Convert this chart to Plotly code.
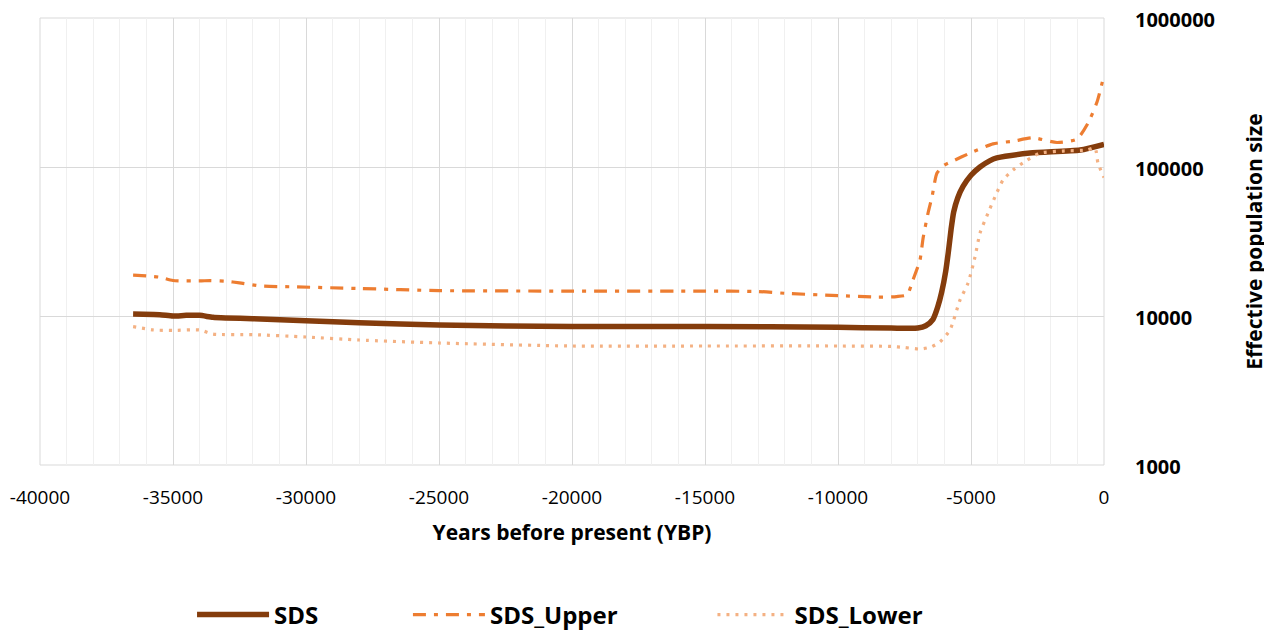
import plotly.graph_objects as go

# ---- data ----
sds_x = [-36500, -35500, -35000, -34500, -34000, -33500, -33000, -32000, -30000, -28000,
         -25000, -20000, -15000, -10000, -8000, -7000, -6700, -6429, -6250, -6100, -5950,
         -5850, -5750, -5650, -5500, -5300, -5000, -4662, -4300, -4030, -2782, -900, 0]
sds_y = [10300, 10200, 10000, 10100, 10100, 9800, 9700, 9600, 9300, 9000,
         8700, 8500, 8500, 8400, 8300, 8300, 8600, 9500, 11500, 14500, 20000,
         27000, 38000, 50000, 62000, 74000, 88000, 100000, 110000, 115000, 124000, 130000, 142000]

upper_x = [-36500, -36000, -35500, -35000, -34000, -33600, -33000, -32500, -31700, -30500,
           -28000, -25000, -20000, -15000, -13000, -12000, -10000, -8500, -7800, -7400,
           -7180, -6917, -6800, -6617, -6466, -6278, -6000, -5714, -5038, -4173, -3421,
           -2669, -1767, -1015, -602, -263, 0]
upper_y = [18800, 18600, 18200, 17300, 17200, 17300, 17100, 16700, 15900, 15700,
           15300, 14800, 14700, 14700, 14600, 14200, 13700, 13400, 13500, 13900,
           17500, 23800, 33400, 48900, 63000, 91000, 103000, 109000, 124000, 143000, 149000,
           157000, 146000, 154000, 197000, 273000, 414000]

lower_x = [-36500, -36000, -35750, -35000, -34000, -33500, -32000, -30000, -28000, -25000,
           -20000, -15000, -10000, -8000, -7500, -6917, -6500, -6165, -5790, -5414, -5113,
           -4850, -4662, -4361, -4098, -3797, -3421, -2895, -2406, -1541, -640, -338, -226, 0]
lower_y = [8480, 8200, 8060, 8000, 8060, 7570, 7500, 7230, 6900, 6590,
           6290, 6290, 6290, 6250, 6150, 6000, 6200, 6700, 8060, 12800, 16600,
           24900, 36000, 49000, 63000, 81700, 95500, 111000, 124000, 128000, 130000, 134000, 106000, 85000]

x_ticks = [-40000, -35000, -30000, -25000, -20000, -15000, -10000, -5000, 0]
y_ticks = [1000, 10000, 100000, 1000000]
y_labels = ["1000", "10000", "100000", "1000000"]

FONT = "Open Sans"
LEG_FONT = dict(family=FONT, size=24, color="black", weight="bold")

fig = go.Figure()
fig.add_trace(go.Scatter(x=sds_x, y=sds_y, mode="lines", name="SDS", legend="legend",
                         line=dict(color="#843C0C", width=5.5, shape="spline", smoothing=0.6)))
fig.add_trace(go.Scatter(x=upper_x, y=upper_y, mode="lines", name="SDS_Upper", legend="legend2",
                         line=dict(color="#ED7D31", width=3.2, dash="13px,8px,4px,8px",
                                   shape="spline", smoothing=0.6)))
fig.add_trace(go.Scatter(x=lower_x, y=lower_y, mode="lines", name="SDS_Lower", legend="legend3",
                         line=dict(color="#F4B183", width=3.2, dash="3px,6px",
                                   shape="spline", smoothing=0.6)))

def leg(xpos):
    return dict(orientation="h", x=xpos, xanchor="left", y=-0.3356, yanchor="middle",
                font=LEG_FONT, itemwidth=72, bgcolor="rgba(0,0,0,0)")

fig.update_layout(
    width=1264, height=640,
    margin=dict(l=32, r=168, t=10, b=183),
    paper_bgcolor="white", plot_bgcolor="white",
    font=dict(family=FONT, color="black"),
    showlegend=True,
    legend=leg(0.1429), legend2=leg(0.3458), legend3=leg(0.632),
    xaxis=dict(range=[-40000, 0], tickvals=x_ticks, ticktext=[str(v) for v in x_ticks],
               automargin=False, ticklabeloverflow="allow",
               showgrid=True, gridcolor="#D9D9D9", gridwidth=1,
               minor=dict(dtick=1000, showgrid=True, gridcolor="#F0F0F0", gridwidth=1),
               zeroline=False, showline=False, ticks="", ticklabelstandoff=19,
               tickfont=dict(family=FONT, size=19, color="black"),
               title=dict(text="Years before present (YBP)", standoff=16,
                          font=dict(family=FONT, size=21, color="black", weight="bold"))),
    yaxis=dict(type="log", range=[3, 6], side="right", tickvals=y_ticks, ticktext=y_labels,
               automargin=False, ticklabeloverflow="allow", ticklabelshift=2,
               showgrid=True, gridcolor="#D9D9D9", gridwidth=1,
               zeroline=False, showline=False, ticks="", ticklabelstandoff=30,
               tickfont=dict(family=FONT, size=20, color="black", weight="bold"),
               title=dict(text="Effective population size", standoff=33,
                          font=dict(family=FONT, size=21, color="black", weight="bold"))),
)
fig.add_shape(type="rect", xref="paper", yref="paper", x0=0, y0=0, x1=1, y1=1,
              line=dict(color="#D9D9D9", width=1), layer="below")

fig.write_html("out.html")
